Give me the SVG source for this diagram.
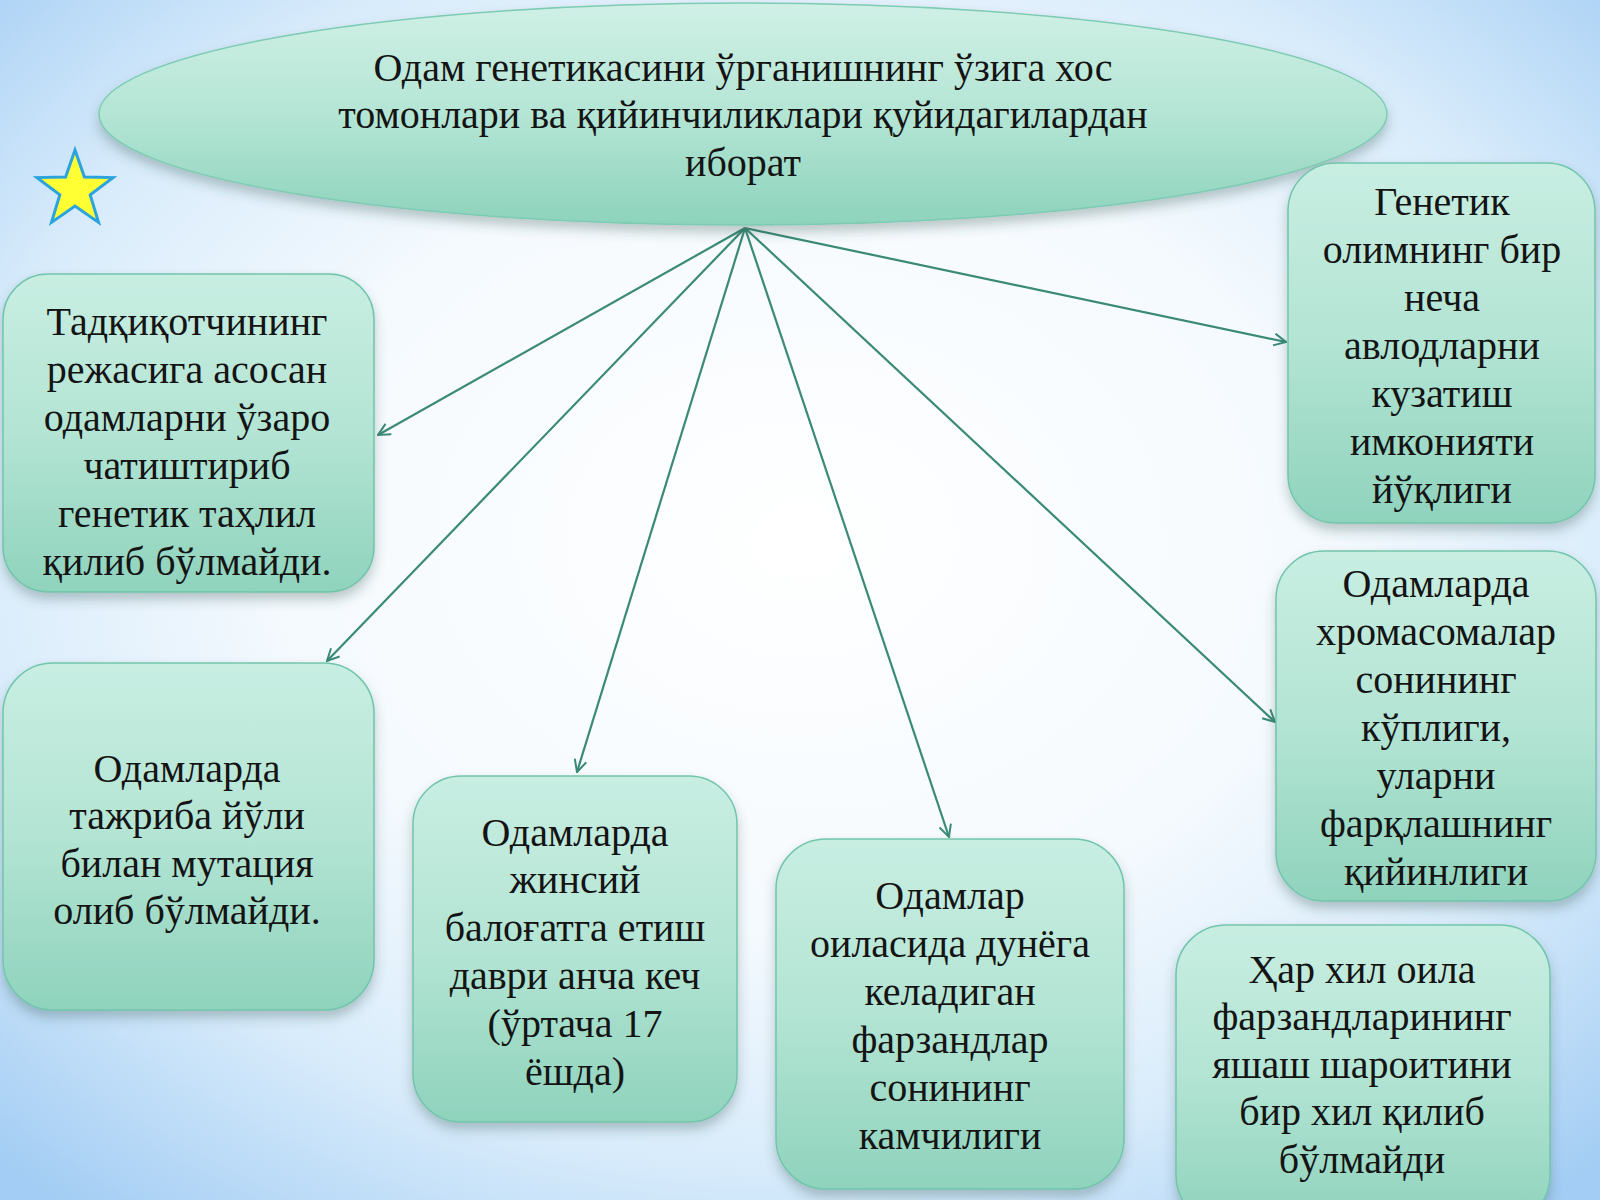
<svg xmlns="http://www.w3.org/2000/svg" width="1600" height="1200" viewBox="0 0 1600 1200">
<defs>
<radialGradient id="bg" cx="50%" cy="45%" r="72%">
<stop offset="0" stop-color="#ffffff"/>
<stop offset="0.45" stop-color="#f5fafe"/>
<stop offset="0.72" stop-color="#d9ecfb"/>
<stop offset="1" stop-color="#a3cdf4"/>
</radialGradient>
<linearGradient id="boxg" x1="0" y1="0" x2="0" y2="1">
<stop offset="0" stop-color="#c8eee2"/>
<stop offset="0.5" stop-color="#b3e4d4"/>
<stop offset="1" stop-color="#8fd3bd"/>
</linearGradient>
<linearGradient id="ellg" x1="0" y1="0" x2="0" y2="1">
<stop offset="0" stop-color="#d0f0e6"/>
<stop offset="0.5" stop-color="#b4e5d5"/>
<stop offset="1" stop-color="#8dd3bc"/>
</linearGradient>
<filter id="sh" x="-10%" y="-10%" width="120%" height="125%">
<feDropShadow dx="0" dy="7" stdDeviation="6" flood-color="#305048" flood-opacity="0.3"/>
</filter>
<marker id="arr" viewBox="0 0 14 14" refX="13" refY="7" markerWidth="14" markerHeight="14" markerUnits="userSpaceOnUse" orient="auto">
<path d="M1,1 L13,7 L1,13" fill="none" stroke="#3a8a76" stroke-width="2"/>
</marker>
</defs>
<style>
.box{fill:url(#boxg);stroke:#72c5ab;stroke-width:1.5;filter:url(#sh)}
.t{font-family:"Liberation Serif","DejaVu Serif",serif;font-size:40px;fill:#141414;text-anchor:middle}
.title{font-family:"Liberation Serif","DejaVu Serif",serif;font-size:40px;fill:#141414;text-anchor:middle}
.conn{stroke:#3a8a76;stroke-width:2.2;fill:none;marker-end:url(#arr)}
</style>
<rect x="0" y="0" width="1600" height="1200" fill="url(#bg)"/>

<g id="star">
<polygon points="75,150 84.4,177.1 113,177.6 90.2,194.9 98.5,222.4 75,206 51.5,222.4 59.8,194.9 37,177.6 65.6,177.1" fill="#ffff33" stroke="#2aa3df" stroke-width="3" stroke-linejoin="miter"/>
</g>

<g id="connectors">
<line class="conn" x1="745" y1="228" x2="378" y2="435"/>
<line class="conn" x1="745" y1="228" x2="327" y2="661"/>
<line class="conn" x1="745" y1="228" x2="577" y2="772"/>
<line class="conn" x1="745" y1="228" x2="949" y2="837"/>
<line class="conn" x1="745" y1="228" x2="1275" y2="722"/>
<line class="conn" x1="745" y1="228" x2="1286" y2="342"/>
</g>

<g id="title">
<ellipse cx="743" cy="114" rx="644" ry="111" fill="url(#ellg)" stroke="#7ecbb3" stroke-width="1.5" filter="url(#sh)"/>
<text class="title" x="743" y="81">Одам генетикасини ўрганишнинг ўзига хос</text>
<text class="title" x="743" y="128">томонлари ва қийинчиликлари қуйидагилардан</text>
<text class="title" x="743" y="176">иборат</text>
</g>

<g id="box-l1">
<rect class="box" x="3" y="274" width="371" height="318" rx="45"/>
<text class="t" x="187" y="335">Тадқиқотчининг</text>
<text class="t" x="187" y="383">режасига асосан</text>
<text class="t" x="187" y="431">одамларни ўзаро</text>
<text class="t" x="187" y="479">чатиштириб</text>
<text class="t" x="187" y="527">генетик таҳлил</text>
<text class="t" x="187" y="575">қилиб бўлмайди.</text>
</g>

<g id="box-l2">
<rect class="box" x="3" y="663" width="371" height="347" rx="50"/>
<text class="t" x="187" y="782">Одамларда</text>
<text class="t" x="187" y="829">тажриба йўли</text>
<text class="t" x="187" y="877">билан мутация</text>
<text class="t" x="187" y="924">олиб бўлмайди.</text>
</g>

<g id="box-b3">
<rect class="box" x="413" y="776" width="324" height="346" rx="48"/>
<text class="t" x="575" y="846">Одамларда</text>
<text class="t" x="575" y="893">жинсий</text>
<text class="t" x="575" y="941">балоғатга етиш</text>
<text class="t" x="575" y="989">даври анча кеч</text>
<text class="t" x="575" y="1037">(ўртача 17</text>
<text class="t" x="575" y="1085">ёшда)</text>
</g>

<g id="box-b4">
<rect class="box" x="776" y="839" width="348" height="350" rx="50"/>
<text class="t" x="950" y="909">Одамлар</text>
<text class="t" x="950" y="957">оиласида дунёга</text>
<text class="t" x="950" y="1005">келадиган</text>
<text class="t" x="950" y="1053">фарзандлар</text>
<text class="t" x="950" y="1101">сонининг</text>
<text class="t" x="950" y="1149">камчилиги</text>
</g>

<g id="box-r1">
<rect class="box" x="1288" y="163" width="307" height="360" rx="48"/>
<text class="t" x="1442" y="215">Генетик</text>
<text class="t" x="1442" y="263">олимнинг бир</text>
<text class="t" x="1442" y="311">неча</text>
<text class="t" x="1442" y="359">авлодларни</text>
<text class="t" x="1442" y="407">кузатиш</text>
<text class="t" x="1442" y="455">имконияти</text>
<text class="t" x="1442" y="503">йўқлиги</text>
</g>

<g id="box-r2">
<rect class="box" x="1276" y="551" width="320" height="350" rx="48"/>
<text class="t" x="1436" y="597">Одамларда</text>
<text class="t" x="1436" y="645">хромасомалар</text>
<text class="t" x="1436" y="693">сонининг</text>
<text class="t" x="1436" y="741">кўплиги,</text>
<text class="t" x="1436" y="789">уларни</text>
<text class="t" x="1436" y="837">фарқлашнинг</text>
<text class="t" x="1436" y="885">қийинлиги</text>
</g>

<g id="box-r3">
<rect class="box" x="1176" y="925" width="374" height="300" rx="50"/>
<text class="t" x="1362" y="983">Ҳар хил оила</text>
<text class="t" x="1362" y="1030">фарзандларининг</text>
<text class="t" x="1362" y="1078">яшаш шароитини</text>
<text class="t" x="1362" y="1125">бир хил қилиб</text>
<text class="t" x="1362" y="1173">бўлмайди</text>
</g>
</svg>
